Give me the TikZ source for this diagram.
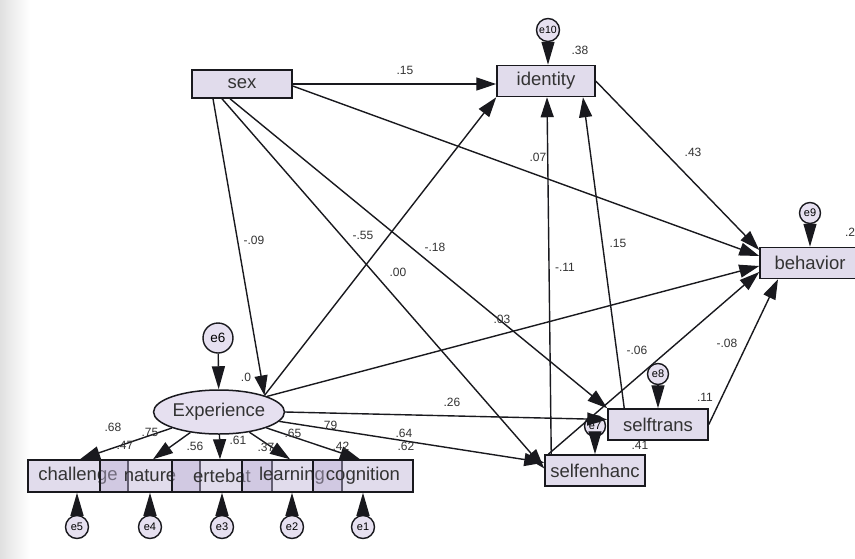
\documentclass[tikz,border=0pt]{standalone}
\usepackage{fontspec}
\setmainfont{Liberation Sans}
\usetikzlibrary{arrows.meta,shapes.geometric}
\definecolor{boxfill}{RGB}{190,178,215}
\definecolor{lav}{RGB}{230,224,240}
\definecolor{ink}{RGB}{25,25,30}
\begin{document}
\begin{tikzpicture}[x=1pt,y=-1pt,
  var/.style={draw=ink, line width=1.5pt, fill=boxfill, fill opacity=0.45, text opacity=1,
    draw opacity=1, minimum width=100pt, minimum height=31pt, inner sep=0pt,
    font=\fontsize{18.5}{20}\selectfont, text=black!80},
  latent/.style={ellipse, draw=ink, line width=1.5pt, fill=lav, minimum width=98pt,
    minimum height=44pt, inner sep=0pt, font=\fontsize{18.5}{20}\selectfont, text=black!80},
  err/.style={circle, draw=ink, line width=1.4pt, fill=lav, minimum size=23pt, inner sep=0pt,
    font=\fontsize{11}{11}\selectfont, text=black},
  coef/.style={font=\fontsize{12}{12}\selectfont, text=black!80, inner sep=0pt},
  link/.style={draw=ink, line width=1.4pt, -{Triangle[length=20pt,width=13pt]}},
  errlink/.style={draw=ink, line width=1.4pt, -{Triangle[length=23pt,width=13pt]}}
]
\useasboundingbox (0,0) rectangle (855,558);
\fill[white] (0,0) rectangle (855,558);
\shade[left color=black!12, right color=white] (0,0) rectangle (30,558);

% observed / latent variables
\node[var, minimum height=28pt] (sex) at (242,84) {sex};
\node[var, minimum width=98pt] (identity) at (546,81) {identity};
\node[var] (behavior) at (810,263) {behavior};
\node[var] (selftrans) at (658,424.5) {selftrans};
\node[var] (selfenhanc) at (595,470.5) {selfenhanc};
\node[latent] (Exp) at (219,412) {Experience};

\node[var, minimum height=32pt] (challenge) at (78,476) {challenge};
\node[var, minimum height=32pt] (nature) at (150,476) {nature};
\node[var, minimum height=32pt] (ertebat) at (222,476) {ertebat};
\node[var, minimum height=32pt] (learning) at (292,476) {learning};
\node[var, minimum height=32pt] (cognition) at (363,476) {cognition};

% error terms
\node[err] (e5) at (77,527) {e5};
\node[err] (e4) at (150,527) {e4};
\node[err] (e3) at (222,527) {e3};
\node[err] (e2) at (292,527) {e2};
\node[err] (e1) at (363,527) {e1};
\node[err, minimum size=30pt, font=\fontsize{13.5}{13}\selectfont] (e6) at (218,338) {e6};
\node[err, minimum size=21pt] (e7) at (595,426) {e7};
\node[err, minimum size=21pt] (e8) at (658,374) {e8};
\node[err, minimum size=21pt] (e9) at (810,213) {e9};
\node[err, minimum size=23pt, font=\fontsize{10.5}{10}\selectfont] (e10) at (548,30) {e10};

% structural paths
\draw[link] (sex.east) -- (sex.east -| identity.west);
\draw[link] ([yshift=-2]sex.east) -- ([yshift=7]behavior.west);
\draw[link] (identity.east) -- ([yshift=13]behavior.west);
\draw[link] ([xshift=-29]sex.south) -- (Exp.20);
\draw[link] ([xshift=-12]sex.south) -- (selftrans.north west);
\draw[link] ([xshift=-20]sex.south) -- ([yshift=2]selfenhanc.west);
\draw[link] (Exp.20) -- (identity.south west);
\draw[link] (Exp.18) -- ([yshift=-3]behavior.west);
\draw[link] (Exp.east) -- ([yshift=5]selftrans.west);
\draw[link] (Exp) -- (selfenhanc);
\draw[link] ([xshift=7]selfenhanc.north west) -- ([xshift=1]identity.south);
\draw[link] ([xshift=17]selftrans.north west) -- ([xshift=37]identity.south);
\draw[link] ([xshift=4]selfenhanc.north west) -- ([yshift=-9]behavior.west);
\draw[link] (selftrans.east) -- ([xshift=-32]behavior.south);

% measurement paths
\draw[link] (Exp) -- ([xshift=2]challenge.north);
\draw[link] (Exp) -- ([xshift=3]nature.north);
\draw[link] (Exp) -- ([xshift=-2]ertebat.north);
\draw[link] (Exp) -- ([xshift=-2]learning.north);
\draw[link] (Exp) -- ([xshift=-3]cognition.north);

% error paths
\draw[errlink] (e10) -- (identity.north -| e10);
\draw[errlink] (e9) -- (behavior.north -| e9);
\draw[errlink] (e8) -- (selftrans.north -| e8);
\draw[errlink] (e7) -- (selfenhanc.north -| e7);
\draw[errlink] (e6) -- (Exp);
\draw[errlink] (e5) -- (challenge.south -| e5);
\draw[errlink] (e4) -- (nature.south -| e4);
\draw[errlink] (e3) -- (ertebat.south -| e3);
\draw[errlink] (e2) -- (learning.south -| e2);
\draw[errlink] (e1) -- (cognition.south -| e1);

% coefficients
\node[coef] (c1) at (405,70) {.15};
\node[coef] (c2) at (580,50) {.38};
\node[coef] (c3) at (693,152) {.43};
\node[coef] (c4) at (538,157) {.07};
\node[coef] (c5) at (850,232) {.2};
\node[coef] (c6) at (254,240) {-.09};
\node[coef] (c7) at (363,235) {-.55};
\node[coef] (c8) at (435,247) {-.18};
\node[coef] (c9) at (398,272) {.00};
\node[coef] (c10) at (565,267) {-.11};
\node[coef] (c11) at (618,243) {.15};
\node[coef] (c12) at (502,319) {.03};
\node[coef] (c13) at (637,350) {-.06};
\node[coef] (c14) at (727,343) {-.08};
\node[coef] (c15) at (705,397) {.11};
\node[coef] (c16) at (640,445) {.41};
\node[coef] (c17) at (452,402) {.26};
\node[coef] (c18) at (246,377) {.0};
\node[coef] (c19) at (113,427) {.68};
\node[coef] (c20) at (125,445) {.47};
\node[coef] (c21) at (150,432) {.75};
\node[coef] (c22) at (195,446) {.56};
\node[coef] (c23) at (238,440) {.61};
\node[coef] (c24) at (266,447) {.37};
\node[coef] (c25) at (293,433) {.65};
\node[coef] (c26) at (329,425) {.79};
\node[coef] (c27) at (341,446) {.42};
\node[coef] (c28) at (404,433) {.64};
\node[coef] (c29) at (406,446) {.62};
\end{tikzpicture}
\end{document}
